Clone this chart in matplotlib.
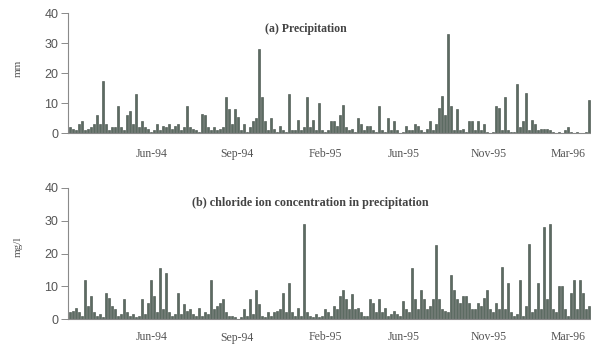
import matplotlib
matplotlib.use("Agg")
import matplotlib.pyplot as plt
import numpy as np

precip = [2, 1.5, 1, 3, 4, 1, 1.5, 2, 3, 6, 3, 17.5, 3, 1, 2, 2, 9, 2, 1, 6,
          7.5, 3, 13, 2, 4, 2, 1.5, 0.5, 1, 3, 1, 2.5, 2, 3, 1.5, 2.5, 3, 1, 2, 9,
          2, 1.5, 1, 0.5, 6.5, 6, 2, 1, 2, 1, 1.5, 2, 12, 8, 3, 8, 5.5, 1, 3, 0.5,
          2, 4, 5, 28, 12, 4, 1, 5, 1.5, 0.5, 2.5, 1, 0.5, 13, 1, 1, 4.5, 1, 2, 12,
          2, 4.5, 1, 10, 1, 0.5, 1, 4, 4, 2.5, 6, 9.5, 2, 1, 1.5, 0.5, 5, 3, 1, 2.5,
          2.5, 1, 0.5, 9, 1, 0.5, 5, 1, 4, 1, 0, 0.5, 2.5, 1, 1, 3, 2.5, 1, 0.5, 1.5,
          4, 1, 3, 8.5, 12.5, 6, 33, 9, 1, 8, 1, 1.5, 0.5, 4, 4, 1, 4, 1, 3, 0.5,
          0, 0.5, 9, 8.5, 1, 12, 1, 0.5, 0.5, 16.5, 2, 4, 13.5, 1, 4.5, 3, 1, 1.5, 1.5, 1.5,
          1, 0.5, 0, 0.5, 0, 1, 2, 0.5, 0, 0.5, 0, 0, 0.5, 11]

chloride = [2, 2.5, 3.5, 2, 1, 12, 4, 7, 2, 1, 1.5, 0.5, 8, 6.5, 4, 3, 1, 1.5, 6, 2,
            1, 1.5, 0.5, 1, 6, 1.5, 5, 12, 7, 2, 15.5, 3, 14, 2, 1, 1.5, 8, 1.5, 4.5, 2.5,
            3, 1.5, 1, 3.5, 1, 2, 1.5, 12, 3, 4, 5, 6, 2, 1, 1, 0.5, 0, 0.5, 3, 1,
            6, 1.5, 9, 4.5, 1, 0.5, 2, 1, 2, 2.5, 3, 8, 2, 11, 2, 1, 3.5, 1, 29, 2,
            1, 0.5, 1.5, 0.5, 1, 3, 2, 1, 4, 3, 7, 9, 6, 3, 7.5, 3, 3.5, 2, 1, 1,
            6, 5, 2, 6, 2, 3.5, 1, 1.5, 2.5, 1.5, 1, 5.5, 3, 2, 15.5, 6, 3, 9, 6, 3,
            4, 6, 22.5, 6, 3, 2.5, 2, 13.5, 9, 6, 5, 7, 7, 5, 3, 3, 5, 4, 6.5, 9,
            3, 2, 5, 3, 16, 3, 11, 2, 1, 1.5, 12, 1, 4, 23, 2, 3, 11, 3, 28, 6,
            29, 3, 2, 10, 10, 3, 1, 8, 12, 3, 12, 8, 3, 4]

tick_labels = ["Jun-94", "Sep-94", "Feb-95", "Jun-95", "Nov-95", "Mar-96"]
tick_pos = [27.3, 55.7, 85.0, 111.3, 139.7, 166.0]
yticks = [0, 10, 20, 30, 40]

W, H = 591, 349
fig = plt.figure(figsize=(W / 100, H / 100), dpi=100)
fig.patch.set_facecolor("white")

bar_color = "#5c6b62"
axis_color = "#8a8a8a"
text_color = "#555555"

def make_axes(rect, values, title, ylabel, title_xy, ylabel_xy, title_size, xpad):
    ax = fig.add_axes(rect)
    x = np.arange(len(values))
    ax.bar(x, values, width=0.85, color=bar_color, edgecolor="#3f4a44", linewidth=0.4)
    ax.set_xlim((68 - 70) / 3, (591 - 70) / 3)
    ax.set_ylim(0, 40)
    for s in ["top", "right"]:
        ax.spines[s].set_visible(False)
    for s in ["left", "bottom"]:
        ax.spines[s].set_color(axis_color)
        ax.spines[s].set_linewidth(0.8)
    ax.set_yticks(yticks)
    ax.set_yticklabels([str(v) for v in yticks], fontsize=9, color=text_color,
                       family="Liberation Sans")
    ax.tick_params(axis="y", length=5, width=0.7, color=axis_color, pad=2)
    ax.set_xticks(tick_pos)
    ax.set_xticklabels(tick_labels, fontsize=8.5, color=text_color, family="Liberation Serif")
    ax.tick_params(axis="x", length=0, pad=xpad)
    fig.text(title_xy[0] / W, 1 - title_xy[1] / H, title, ha="center", va="center",
             fontsize=title_size, fontweight="bold", family="Liberation Serif", color="#444444")
    fig.text(ylabel_xy[0] / W, 1 - ylabel_xy[1] / H, ylabel, ha="center", va="center",
             rotation=90, fontsize=8, family="Liberation Serif", color=text_color)
    return ax

make_axes([68 / W, 1 - 133 / H, 523 / W, 120 / H], precip,
          "(a) Precipitation", "mm", (306, 29), (18, 68), 8.5, 11)
make_axes([68 / W, 1 - 319 / H, 523 / W, 131 / H], chloride,
          "(b) chloride ion concentration in precipitation", "mg/l", (310, 203), (18, 247), 8.7, 9)

fig.savefig("out.png", dpi=100)
